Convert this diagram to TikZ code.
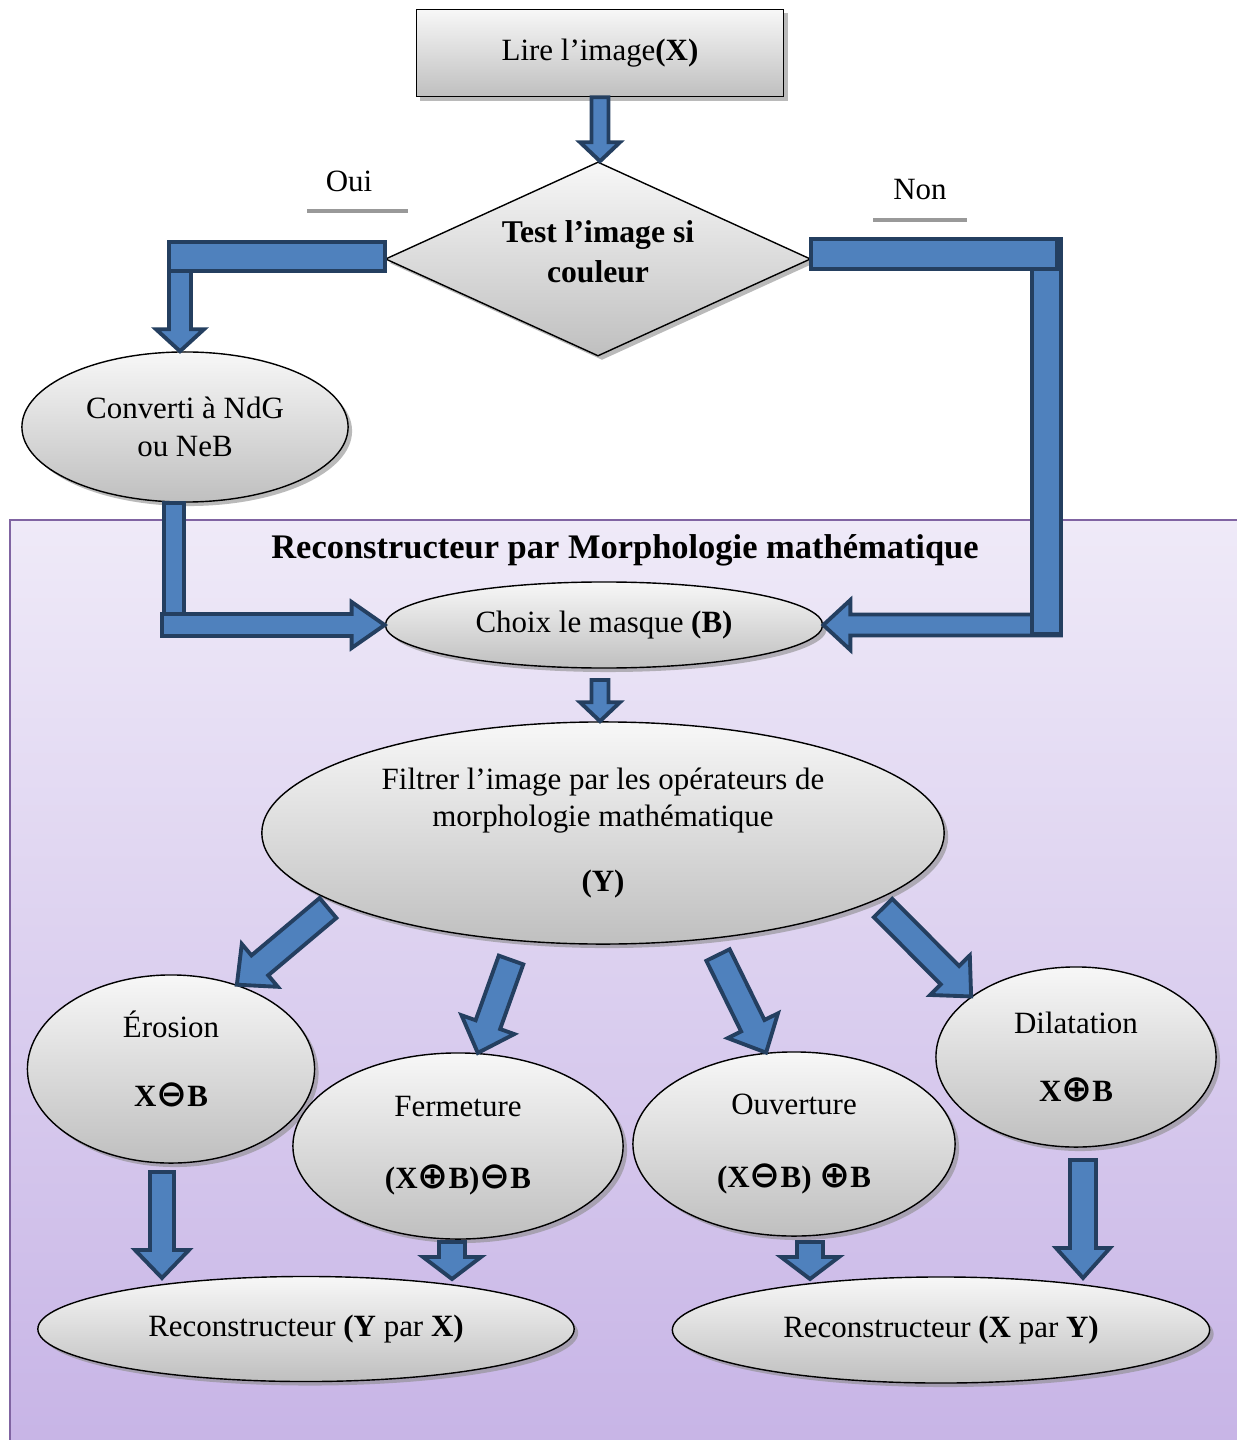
\documentclass[tikz,border=0pt]{standalone}
\usepackage{fontspec}
\setmainfont{Liberation Serif}
\newfontfamily\symfont{DejaVu Sans}
\usetikzlibrary{shapes.geometric,calc,shadows}

\definecolor{arrowblue}{RGB}{79,129,189}
\definecolor{arrowdark}{RGB}{36,63,96}
\definecolor{framepurple}{RGB}{128,100,162}
\definecolor{lavtop}{RGB}{239,234,248}
\definecolor{lavbot}{RGB}{199,180,230}

\newcommand{\omn}{{\symfont\fontsize{10.5}{10}\selectfont ⊖}}
\newcommand{\opl}{{\symfont\fontsize{10.5}{10}\selectfont ⊕}}

% #1 shaft half width, #2 head half width, #3 head length, #4 from, #5 to
\newcommand{\blockarrow}[5]{%
  \draw[blockarr] let \p1=(#4), \p2=(#5), \n1={atan2(\y2-\y1,\x2-\x1)} in
    ($(\p1)+(\n1+90:#1)$) -- ($(\p2)+(\n1+180:#3)+(\n1+90:#1)$)
    -- ($(\p2)+(\n1+180:#3)+(\n1+90:#2)$) -- (\p2)
    -- ($(\p2)+(\n1+180:#3)+(\n1-90:#2)$) -- ($(\p2)+(\n1+180:#3)+(\n1-90:#1)$)
    -- ($(\p1)+(\n1-90:#1)$) -- cycle;}

\tikzset{
  greybox/.style={draw=black, top color=gray!6, bottom color=gray!50,
    drop shadow={shadow xshift=0.4mm, shadow yshift=-0.4mm, fill=black!45, opacity=0.6}},
  oval/.style={greybox, ellipse, inner sep=0pt, align=center},
  blockarr/.style={draw=arrowdark, fill=arrowblue, line width=1.1pt, line join=miter},
  note/.style={black!40, line width=1pt},
}

\begin{document}
\begin{tikzpicture}[x=0.01cm, y=-0.01cm, font=\fontsize{8.8}{10.5}\selectfont]
  \useasboundingbox (0,0) rectangle (1237,1440);

  % frame of the reconstructeur part
  \shade[top color=lavtop, bottom color=lavbot, draw=framepurple, line width=0.6pt]
    (10,520) rectangle (1250,1450);
  \node[font=\fontsize{9.8}{12}\selectfont\bfseries] (titre) at (625,550)
    {Reconstructeur par Morphologie mathématique};

  % main nodes
  \node[greybox, minimum width=3.67cm, minimum height=0.87cm] (lire) at (600,53)
    {Lire l’image\textbf{(X)}};
  \node[greybox, diamond, aspect=2.2, inner sep=0pt, minimum width=4.25cm,
    minimum height=1.94cm, align=center, font=\fontsize{9}{11.4}\selectfont\bfseries]
    (test) at (598,259) {Test l’image si\\couleur\rule[-4pt]{0pt}{1pt}};
  \node[oval, minimum width=3.26cm, minimum height=1.5cm,
    font=\fontsize{8.8}{11}\selectfont] (conv) at (185,427) {Converti à NdG\\ou NeB};
  \node[oval, minimum width=4.37cm, minimum height=0.86cm] (choix) at (604,625)
    {Choix le masque \textbf{(B)}};
  \node[oval, minimum width=6.82cm, minimum height=2.22cm] (filt) at (603,833)
    {Filtrer l’image par les opérateurs de\\morphologie mathématique\\[8pt]\textbf{(Y)}};

  \node[oval, minimum width=2.87cm, minimum height=1.88cm] (ero) at (171,1069)
    {Érosion\\[9pt]\textbf{X\omn B}\rule[-6pt]{0pt}{1pt}};
  \node[oval, minimum width=3.30cm, minimum height=1.86cm] (ferm) at (458,1146)
    {Fermeture\\[10pt]\textbf{(X\opl B)\omn B}};
  \node[oval, minimum width=3.22cm, minimum height=1.84cm] (ouv) at (794,1144)
    {Ouverture\\[10pt]\textbf{(X\omn B) \opl B}};
  \node[oval, minimum width=2.80cm, minimum height=1.80cm] (dil) at (1076,1057)
    {Dilatation\\[9pt]\textbf{X\opl B}};

  \node[oval, minimum width=5.36cm, minimum height=1.05cm] (rec1) at (306,1329)
    {Reconstructeur \textbf{(Y} par \textbf{X)}};
  \node[oval, minimum width=5.37cm, minimum height=1.06cm] (rec2) at (941,1330)
    {Reconstructeur \textbf{(X} par \textbf{Y)}};

  % oui / non
  \node (oui) at (349,181) {Oui};
  \draw[note] (307,211) -- (408,211);
  \node (non) at (920,190) {Non};
  \draw[note] (873,220) -- (967,220);

  % arrows
  \blockarrow{0.085cm}{0.2cm}{0.19cm}{lire.south}{lire.south |- test.north}

  \coordinate (ocoin) at (180,256);
  \blockarrow{0.11cm}{0.24cm}{0.22cm}{ocoin}{ocoin |- conv.north}
  \draw[blockarr] (169,242) rectangle (test.west |- 0,271);

  \coordinate (lcoin) at (162,625);
  \blockarrow{0.11cm}{0.23cm}{0.33cm}{lcoin}{choix.west}
  \draw[blockarr] (conv.south -| 164,0) rectangle (184,614);

  \coordinate (ncoin) at (1061,625);
  \blockarrow{0.105cm}{0.25cm}{0.27cm}{ncoin}{choix.east}
  \draw[blockarr] (1032,239) rectangle (1061,634);
  \draw[blockarr] (test.east |- 0,239) rectangle (1057,269);

  \coordinate (fcoin) at (600,680);
  \blockarrow{0.085cm}{0.2cm}{0.19cm}{fcoin}{fcoin |- filt.north}

  \coordinate (d1) at (328,908);
  \coordinate (d2) at (511,960);
  \coordinate (d3) at (718,955);
  \coordinate (d4) at (883,908);
  \blockarrow{0.13cm}{0.28cm}{0.3cm}{d1}{ero.52}
  \blockarrow{0.13cm}{0.28cm}{0.3cm}{d2}{ferm.78}
  \blockarrow{0.13cm}{0.28cm}{0.3cm}{d3}{ouv.107}
  \blockarrow{0.13cm}{0.28cm}{0.3cm}{d4}{dil.150}

  \blockarrow{0.12cm}{0.27cm}{0.28cm}{162,1172}{162,1278}
  \blockarrow{0.13cm}{0.29cm}{0.22cm}{452,1242}{452,1279}
  \blockarrow{0.13cm}{0.29cm}{0.22cm}{810,1242}{810,1279}
  \blockarrow{0.13cm}{0.27cm}{0.3cm}{1083,1160}{1083,1278}
\end{tikzpicture}
\end{document}
